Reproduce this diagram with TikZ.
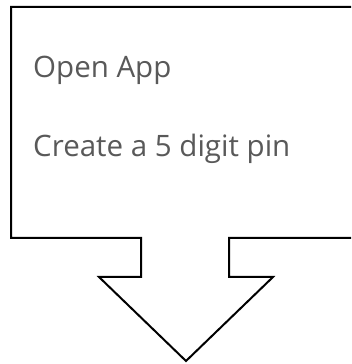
\documentclass[tikz,border=0pt]{standalone}
\usepackage{fontspec}
\setmainfont{Open Sans}
\usepackage{tikz}

\begin{document}
\begin{tikzpicture}[x=1pt,y=1pt]
\tikzstyle{step text}=[anchor=base west,inner sep=0pt,text=black!65,font=\fontsize{29.5}{34}\selectfont]
    \useasboundingbox (0,0) rectangle (351,364);
    \clip (0,0) rectangle (351,364);
    \draw[line width=2pt,line join=miter,fill=white]
      (11,357) -- (380,357) -- (380,126) -- (229,126) -- (229,87) -- (273,87)
      -- (186,3) -- (99,87) -- (141,87) -- (141,126) -- (11,126) -- cycle;
    \node[step text] (open) at (33,286) {Open App};
    \node[step text] (pin) at (33,207) {Create a 5 digit pin};
  \end{tikzpicture}
\end{document}
